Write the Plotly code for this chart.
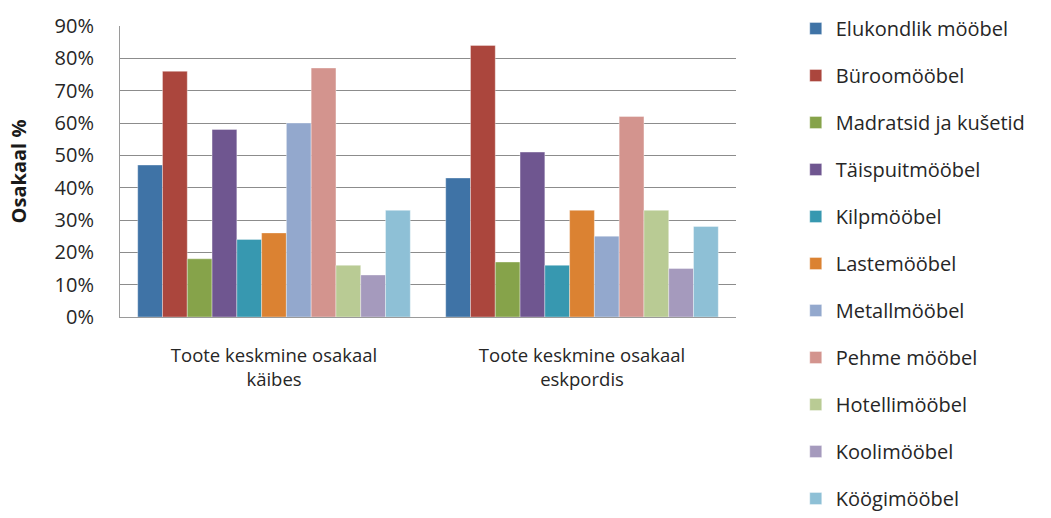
import plotly.graph_objects as go

categories = ["Toote keskmine osakaal<br>käibes", "Toote keskmine osakaal<br>eskpordis"]

series_names = [
    "Elukondlik mööbel", "Büroomööbel", "Madratsid ja kušetid", "Täispuitmööbel",
    "Kilpmööbel", "Lastemööbel", "Metallmööbel", "Pehme mööbel",
    "Hotellimööbel", "Koolimööbel", "Köögimööbel",
]

# share (fraction) for each furniture type: [käibes, eskpordis]
elukondlik = [0.47, 0.43]
buroo = [0.76, 0.84]
madratsid = [0.18, 0.17]
taispuit = [0.58, 0.51]
kilp = [0.24, 0.16]
laste = [0.26, 0.33]
metall = [0.60, 0.25]
pehme = [0.77, 0.62]
hotelli = [0.16, 0.33]
kooli = [0.13, 0.15]
koogi = [0.33, 0.28]

series_values = [elukondlik, buroo, madratsid, taispuit, kilp, laste,
                 metall, pehme, hotelli, kooli, koogi]

colors = ["#3F73A6", "#AB463D", "#86A34A", "#6F5690", "#3798B0", "#DB8232",
          "#93A8CD", "#D3948E", "#B9CB94", "#A59ABD", "#8EC0D6"]

tick_vals = [0, 0.1, 0.2, 0.3, 0.4, 0.5, 0.6, 0.7, 0.8, 0.9]
tick_text = ["0%", "10%", "20%", "30%", "40%", "50%", "60%", "70%", "80%", "90%"]

fig = go.Figure()
for name, vals, col in zip(series_names, series_values, colors):
    fig.add_trace(go.Bar(
        name=name, x=categories, y=vals, legendgroup=name,
        marker=dict(color=col, line=dict(color="rgba(255,255,255,0.6)", width=0.6)),
    ))

font_family = "Open Sans, Noto Sans, sans-serif"
text_color = "#262626"

fig.update_layout(
    width=1051, height=518,
    paper_bgcolor="white", plot_bgcolor="white",
    margin=dict(l=120, r=315, t=22, b=201),
    barmode="group", bargap=0.115, bargroupgap=0,
    font=dict(family=font_family, color=text_color),
    showlegend=True,
    legend=dict(
        x=1.097, y=0.97, xanchor="left", yanchor="top",
        font=dict(size=20, family=font_family, color=text_color),
        tracegroupgap=18, itemwidth=30,
        maxheight=700,
        bgcolor="rgba(0,0,0,0)",
    ),
    xaxis=dict(
        showline=True, linecolor="#9A9A9A", linewidth=1,
        tickfont=dict(size=18.5, family=font_family, color=text_color),
        ticks="", showgrid=False, ticklabelstandoff=22,
    ),
    yaxis=dict(
        range=[0, 0.9], tickvals=tick_vals, ticktext=tick_text,
        tickfont=dict(size=20, family=font_family, color=text_color),
        showgrid=True, gridcolor="#8C8C8C", gridwidth=1,
        showline=True, linecolor="#9A9A9A", linewidth=1,
        zeroline=False, ticks="", ticklabelstandoff=21,
        title=dict(text="<b>Osakaal %</b>",
                   font=dict(size=20, family=font_family, color="#1a1a1a"),
                   standoff=22),
    ),
)

fig.write_html("out.html")
